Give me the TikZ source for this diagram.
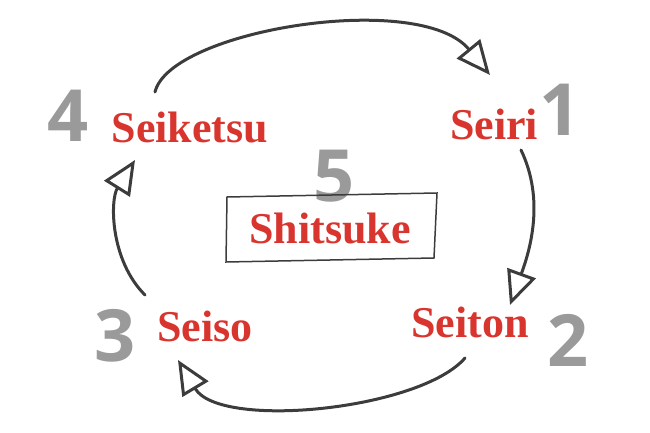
\documentclass[tikz,border=0pt]{standalone}
\usepackage{fontspec}
\setmainfont{Liberation Serif}
\newfontfamily\numfont{Open Sans}
\usetikzlibrary{arrows.meta}
\definecolor{wred}{HTML}{D8352F}
\definecolor{wgray}{HTML}{9A9A9A}
\definecolor{wdark}{HTML}{3C3C3C}
\tikzset{
 num/.style={text=wgray,font=\numfont\bfseries\fontsize{72}{72}\selectfont,inner sep=0},
 word/.style={text=wred,font=\bfseries\fontsize{44}{44}\selectfont,inner sep=0},
 flow/.style={draw=wdark,line width=3pt,line cap=round,-{Triangle[open,length=34pt,width=30pt,line width=3pt]}}
}
\begin{document}
\begin{tikzpicture}[x=1pt,y=-1pt]
\useasboundingbox (0,0) rectangle (650,433);
\node[num] (n4) at (68,116) {4};
\node[word] (w4) at (190,128) {Seiketsu};
\node[num] (n1) at (560,110) {1};
\node[word] (w1) at (494,124) {Seiri};
\node[num] (n5) at (334,176) {5};
\node[word] (w5) at (330,229) {Shitsuke};
\node[num] (n2) at (568,340) {2};
\node[word] (w2) at (470,322) {Seiton};
\node[num] (n3) at (115,336) {3};
\node[word] (w3) at (205,326) {Seiso};
\draw[wdark,line width=1.5pt] (227,197) -- (437,193) -- (434,258) -- (226,262) -- cycle;
\coordinate (a1) at (155,92);
\coordinate (a1e) at (490,75);
\draw[flow] (a1) .. controls (170,30) and (420,-10) .. (a1e);
\coordinate (b1) at (521,150);
\coordinate (b1e) at (510,305);
\draw[flow] (b1) .. controls (545,200) and (530,250) .. (b1e);
\coordinate (c1) at (465,358);
\coordinate (c1e) at (178,360);
\draw[flow] (c1) .. controls (420,410) and (220,430) .. (c1e);
\coordinate (d1) at (145,295);
\coordinate (d1e) at (135,160);
\draw[flow] (d1) .. controls (110,260) and (110,200) .. (d1e);
\end{tikzpicture}
\end{document}
